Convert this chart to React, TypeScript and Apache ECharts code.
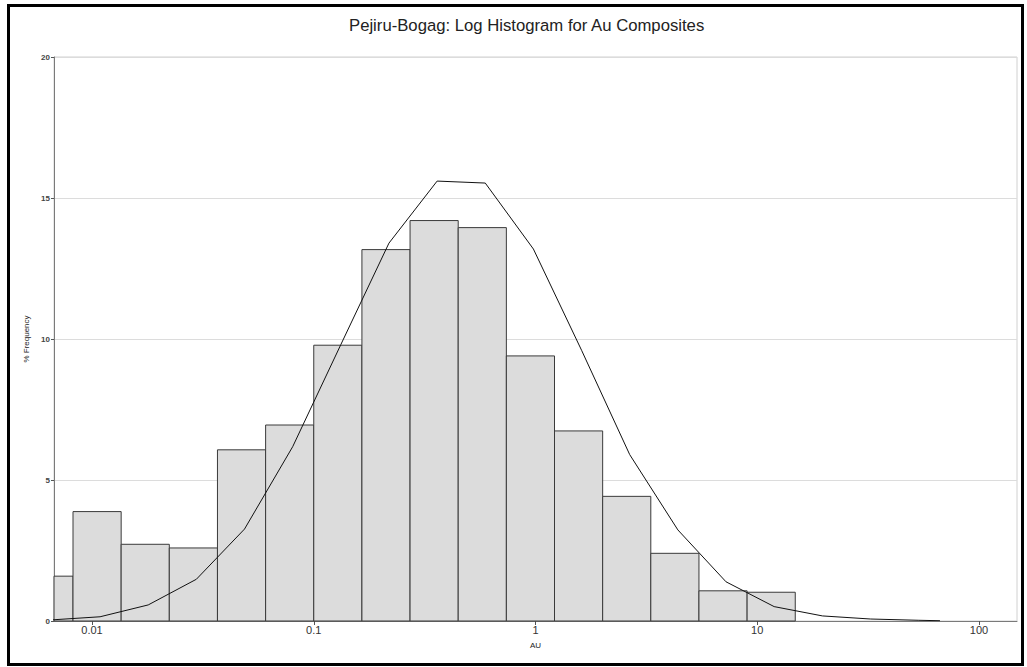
import React, { useEffect, useRef } from 'react';
import * as echarts from 'echarts';

// Histogram bins (AU, log-spaced) and % frequency
const binLower = [0.004979, 0.008208, 0.013534, 0.022313, 0.036788, 0.060653, 0.1, 0.164872, 0.271828, 0.448169, 0.738906, 1.218249, 2.008554, 3.311545, 5.459815, 9.001713];
const binUpper = [0.008208, 0.013534, 0.022313, 0.036788, 0.060653, 0.1, 0.164872, 0.271828, 0.448169, 0.738906, 1.218249, 2.008554, 3.311545, 5.459815, 9.001713, 14.841316];
const frequency = [1.59, 3.88, 2.72, 2.59, 6.07, 6.95, 9.78, 13.17, 14.2, 13.95, 9.4, 6.74, 4.42, 2.4, 1.07, 1.02];

// Fitted lognormal curve points
const curveX = [0.006594, 0.010871, 0.017924, 0.02955, 0.04872, 0.080327, 0.132436, 0.21835, 0.36, 0.59354, 0.97858, 1.6134, 2.66, 4.3857, 7.2308, 11.9215, 19.687, 32.49, 53.567, 66.7];
const curveY = [0.04, 0.15, 0.57, 1.48, 3.26, 6.18, 9.8, 13.4, 15.6, 15.53, 13.19, 9.6, 5.9, 3.23, 1.39, 0.51, 0.18, 0.07, 0.025, 0.01];

const yTicks = { min: 0, max: 20, interval: 5 };
const xRange = { min: 0.006738, max: 148.41 };

const TITLE = 'Pejiru-Bogag: Log Histogram for Au Composites';

export default function App() {
  const ref = useRef<HTMLDivElement>(null);
  useEffect(() => {
    if (!ref.current) return;
    const chart = echarts.init(ref.current, null, { renderer: 'svg' });
    const font = '"Liberation Sans", Arial, sans-serif';
    const barData = binLower.map((l, i) => [l, binUpper[i], frequency[i]]);
    const lineData = curveX.map((x, i) => [x, curveY[i]]);
    chart.setOption({
      animation: false,
      backgroundColor: '#ffffff',
      textStyle: { fontFamily: font },
      title: {
        text: TITLE,
        left: 349,
        top: 17,
        padding: 0,
        textStyle: { fontSize: 16.7, fontWeight: 'normal', color: '#222', fontFamily: font },
      },
      graphic: [
        {
          type: 'rect',
          shape: { x: 8.5, y: 5.5, width: 1014, height: 659 },
          style: { fill: 'none', stroke: '#000', lineWidth: 3 },
          silent: true,
          z: 100,
        },
      ],
      grid: {
        left: 54,
        right: 10,
        top: 57,
        bottom: 46,
        show: true,
        borderColor: '#d0d0d0',
        borderWidth: 1,
        backgroundColor: 'transparent',
      },
      xAxis: {
        type: 'log',
        logBase: 10,
        min: xRange.min,
        max: xRange.max,
        name: 'AU',
        nameLocation: 'middle',
        nameGap: 20,
        nameTextStyle: { fontSize: 8, color: '#222', fontFamily: font },
        axisLine: { show: true, lineStyle: { color: '#7a7a7a', width: 1 } },
        axisTick: { show: true, length: 4, lineStyle: { color: '#555' } },
        minorTick: { show: false },
        splitLine: { show: false },
        axisLabel: {
          fontSize: 11,
          color: '#333',
          margin: 3,
          showMinLabel: false,
          showMaxLabel: false,
          formatter: (v: number) => {
            const e = Math.log10(v);
            const r = Math.round(e);
            if (Math.abs(e - r) > 1e-6) return '';
            return String(+Math.pow(10, r).toFixed(Math.max(0, -r)));
          },
        },
      },
      yAxis: {
        type: 'value',
        min: yTicks.min,
        max: yTicks.max,
        interval: yTicks.interval,
        name: '% Frequency',
        nameLocation: 'middle',
        nameGap: 17,
        nameRotate: 90,
        nameTextStyle: { fontSize: 8, color: '#222', fontFamily: font },
        axisLine: { show: true, lineStyle: { color: '#7a7a7a', width: 1 } },
        axisTick: { show: true, length: 3, lineStyle: { color: '#555' } },
        splitLine: { show: true, lineStyle: { color: '#dcdcdc', width: 1 } },
        axisLabel: { fontSize: 8, color: '#444', margin: 4, fontWeight: 'bold' },
      },
      series: [
        {
          type: 'custom',
          name: 'Histogram',
          data: barData,
          encode: { x: [0, 1], y: 2 },
          z: 2,
          renderItem: (params: any, api: any) => {
            const x0 = api.value(0);
            const x1 = api.value(1);
            const h = api.value(2);
            const p0 = api.coord([x0, h]);
            const p1 = api.coord([x1, 0]);
            const rect = echarts.graphic.clipRectByRect(
              { x: p0[0], y: p0[1], width: p1[0] - p0[0], height: p1[1] - p0[1] },
              params.coordSys
            );
            if (!rect) return null;
            return {
              type: 'rect',
              shape: rect,
              style: { fill: '#dcdcdc', stroke: '#3a3a3a', lineWidth: 1 },
            };
          },
        },
        {
          type: 'line',
          name: 'Lognormal',
          data: lineData,
          symbol: 'none',
          z: 3,
          clip: true,
          lineStyle: { color: '#111', width: 1 },
        },
      ],
    });
    return () => chart.dispose();
  }, []);
  return (
    <div
      ref={ref}
      style={{ position: 'fixed', left: 0, top: 0, width: 1027, height: 667, background: '#fff' }}
    />
  );
}
